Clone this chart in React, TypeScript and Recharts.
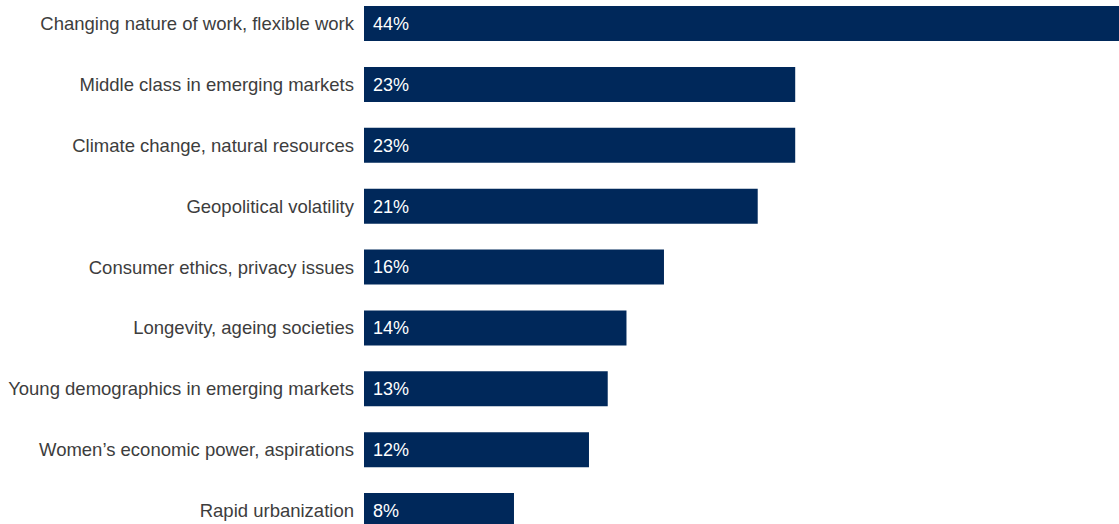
import { BarChart, Bar, XAxis, YAxis, LabelList } from "recharts";

const categories = [
  "Changing nature of work, flexible work",
  "Middle class in emerging markets",
  "Climate change, natural resources",
  "Geopolitical volatility",
  "Consumer ethics, privacy issues",
  "Longevity, ageing societies",
  "Young demographics in emerging markets",
  "Women’s economic power, aspirations",
  "Rapid urbanization",
];
const shares = [44, 23, 23, 21, 16, 14, 13, 12, 8];

const data = categories.map((name, i) => ({ name, value: shares[i] }));

const NAVY = "#00285a";
const FONT = "'Liberation Sans', Arial, sans-serif";

export default function App() {
  return (
    <div
      style={{
        position: "fixed",
        left: 0,
        top: 0,
        width: 1119,
        height: 524,
        overflow: "hidden",
        background: "#fff",
      }}
    >
      <div style={{ marginTop: -7 }}>
        <BarChart
          width={1119}
          height={548}
          data={data}
          layout="vertical"
          margin={{ top: 0, right: 0, bottom: 0, left: 0 }}
        >
          <XAxis type="number" hide domain={[0, 40.27]} allowDataOverflow />
          <YAxis
            type="category"
            dataKey="name"
            width={364}
            axisLine={false}
            tickLine={false}
            tickSize={0}
            tickMargin={10}
            interval={0}
            tick={{ fill: "#3d3d3d", fontSize: 18.5, fontFamily: FONT }}
          />
          <Bar dataKey="value" fill={NAVY} barSize={35} isAnimationActive={false}>
            <LabelList
              dataKey="value"
              position="insideLeft"
              offset={9}
              formatter={(v: number) => `${v}%`}
              style={{ fill: "#ffffff", fontSize: 18, fontFamily: FONT }}
            />
          </Bar>
        </BarChart>
      </div>
    </div>
  );
}
